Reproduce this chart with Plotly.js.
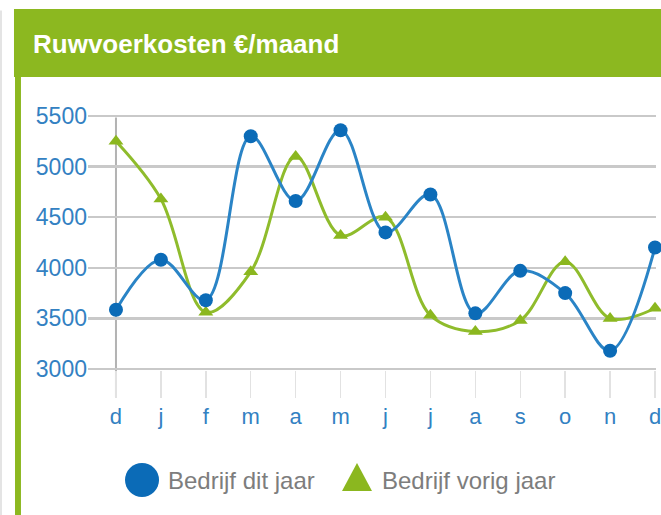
<!DOCTYPE html>
<html>
<head>
<meta charset="utf-8">
<script src="https://cdn.plot.ly/plotly-3.0.1.min.js"></script>
<style>html,body{margin:0;padding:0;background:#fff;}#chart{width:661px;height:515px;}</style>
</head>
<body>
<div id="chart"></div>
<script>
// ---- data ----
const months = ["d", "j", "f", "m", "a", "m", "j", "j", "a", "s", "o", "n", "d"];
const monthIndex = [0, 1, 2, 3, 4, 5, 6, 7, 8, 9, 10, 11, 12];
const ditJaar = [3585, 4080, 3680, 5300, 4660, 5360, 4350, 4725, 3550, 3970, 3750, 3180, 4200];
const vorigJaar = [5250, 4680, 3560, 3960, 5100, 4320, 4500, 3530, 3370, 3480, 4060, 3500, 3600];
const yTicks = [3000, 3500, 4000, 4500, 5000, 5500];
const titleText = "Ruwvoerkosten €/maand";
const nameDit = "Bedrijf dit jaar";
const nameVorig = "Bedrijf vorig jaar";

const BLUE = "#0b6bb7", BLUE_LINE = "#2a84c6";
const GREEN = "#8bb71f", GREEN_LINE = "#8fbc2c";
const LABEL_BLUE = "#3381c2";
const FONT = "Liberation Sans, Arial, sans-serif";

const traces = [
  {
    x: monthIndex, y: vorigJaar, name: nameVorig, type: "scatter", mode: "lines+markers",
    line: {shape: "spline", smoothing: 1, color: GREEN_LINE, width: 3},
    marker: {symbol: "triangle-up", size: 13, color: GREEN},
    cliponaxis: false, showlegend: false
  },
  {
    x: monthIndex, y: ditJaar, name: nameDit, type: "scatter", mode: "lines+markers",
    line: {shape: "spline", smoothing: 1, color: BLUE_LINE, width: 3},
    marker: {symbol: "circle", size: 14, color: BLUE},
    cliponaxis: false, showlegend: false
  }
];

const layout = {
  width: 661, height: 515,
  margin: {l: 88, r: 5, t: 115, b: 145, pad: 0},
  paper_bgcolor: "#ffffff", plot_bgcolor: "#ffffff",
  showlegend: false,
  title: {
    text: titleText, xref: "container", yref: "container",
    x: 33/661, xanchor: "left", y: 1 - 44/515, yanchor: "middle",
    font: {family: FONT, size: 26, color: "#ffffff", weight: "bold"}
  },
  xaxis: {
    range: [-0.623, 12.022], tickmode: "array", tickvals: monthIndex, ticktext: months,
    showgrid: false, zeroline: false, showline: false,
    ticks: "outside", ticklen: 27, tickwidth: 1.5, tickcolor: "#e2e2e2",
    ticklabeloverflow: "allow",
    tickfont: {family: FONT, size: 22, color: LABEL_BLUE},
    fixedrange: true
  },
  yaxis: {
    range: [2990, 5510], tickmode: "array", tickvals: yTicks,
    showgrid: true, gridcolor: "#c9c9c9", gridwidth: 2.5,
    zeroline: false, showline: false, ticks: "",
    tickfont: {family: FONT, size: 23, color: LABEL_BLUE},
    fixedrange: true
  },
  shapes: [
    {type: "rect", xref: "paper", yref: "paper", x0: -0.1303, x1: 1.02, y0: 1.149, y1: 1.4157,
     fillcolor: "#8cb820", line: {width: 0}, layer: "below"},
    {type: "rect", xref: "paper", yref: "paper", x0: -0.1285, x1: -0.1180, y0: -0.6, y1: 1.15,
     fillcolor: "#8cb820", line: {width: 0}, layer: "below"},
    {type: "line", xref: "paper", yref: "paper", x0: -0.1532, x1: -0.1532, y0: -0.6, y1: 1.41,
     line: {color: "#e4e4e4", width: 2}, layer: "below"},
    {type: "line", xref: "x", yref: "paper", x0: 0, x1: 0, y0: -0.106, y1: 0.99,
     line: {color: "#b3b3b3", width: 2}, layer: "below"},
    {type: "circle", xref: "paper", yref: "paper", xsizemode: "pixel", ysizemode: "pixel",
     xanchor: 0.0951, yanchor: -0.4314, x0: -17, x1: 17, y0: -17, y1: 17,
     fillcolor: BLUE, line: {width: 0}},
    {type: "path", xref: "paper", yref: "paper", xsizemode: "pixel", ysizemode: "pixel",
     xanchor: 0.4736, yanchor: -0.4196, path: "M-15,-14 L15,-14 L0,14 Z",
     fillcolor: GREEN, line: {width: 0}}
  ],
  annotations: [
    {xref: "paper", yref: "paper", x: 0.1373, y: -0.4314, xanchor: "left", yanchor: "middle",
     text: nameDit, showarrow: false, font: {family: FONT, size: 24, color: "#7d7d7d"}},
    {xref: "paper", yref: "paper", x: 0.5141, y: -0.4314, xanchor: "left", yanchor: "middle",
     text: nameVorig, showarrow: false, font: {family: FONT, size: 24, color: "#7d7d7d"}}
  ]
};

Plotly.newPlot("chart", traces, layout, {displayModeBar: false, staticPlot: true});
</script>
</body>
</html>
